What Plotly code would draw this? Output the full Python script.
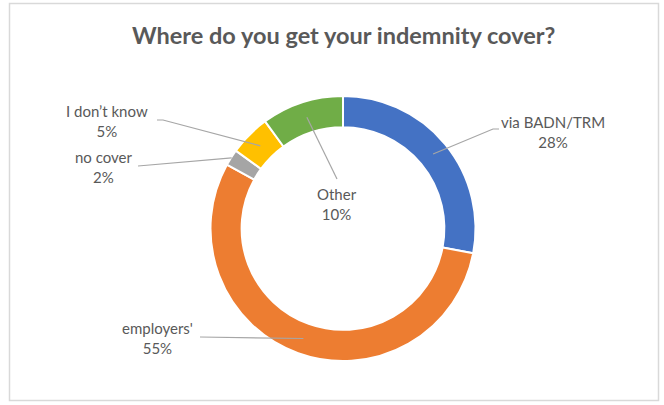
import math
import plotly.graph_objects as go

# Survey answers, clockwise from 12 o'clock
categories = ["via BADN/TRM", "employers'", "no cover", "I don\u2019t know", "Other"]
shares = [28, 55, 2, 5, 10]
colors = ["#4472C4", "#ED7D31", "#A5A5A5", "#FFC000", "#70AD47"]

W, H = 664, 405
CX, CY = 343, 228.5          # donut centre in page pixels (y from top)
R_OUT = 132.5
HOLE = 0.765
R_MID = R_OUT * (1 + HOLE) / 2

# Where each label sits (centre of the two-line text) and where its leader starts
label_pos = {
    "via BADN/TRM": (553, 132),
    "employers'": (157, 338),
    "no cover": (103, 167),
    "I don\u2019t know": (107, 121),
    "Other": (337, 204),
}
leader_start = {
    "via BADN/TRM": [(499, 129), (493, 129)],
    "employers'": [(200, 337)],
    "no cover": [(138, 166)],
    "I don\u2019t know": [(157, 120), (163, 120)],
    "Other": [(337, 179)],
}
leader_radius = {"no cover": R_OUT * 0.995}


def px(x):
    return x / W


def py(y):
    return (H - y) / H


fig = go.Figure(
    go.Pie(
        labels=categories,
        values=shares,
        sort=False,
        direction="clockwise",
        rotation=0,
        hole=HOLE,
        marker=dict(colors=colors, line=dict(color="white", width=2)),
        textinfo="none",
        hoverinfo="label+percent",
        showlegend=False,
        domain=dict(
            x=[px(CX - R_OUT), px(CX + R_OUT)],
            y=[py(CY + R_OUT), py(CY - R_OUT)],
        ),
    )
)

shapes = []
annotations = []
total = sum(shares)
cum = 0.0
for name, v in zip(categories, shares):
    mid = (cum + v / 2) / total
    cum += v
    ang = 2 * math.pi * mid
    r = leader_radius.get(name, R_MID)
    ex, ey = CX + r * math.sin(ang), CY - r * math.cos(ang)
    pts = leader_start[name] + [(ex, ey)]
    path = "M " + " L ".join(f"{px(x):.5f},{py(y):.5f}" for x, y in pts)
    shapes.append(dict(type="path", xref="paper", yref="paper", path=path,
                       line=dict(color="#A6A6A6", width=1.2)))
    lx, ly = label_pos[name]
    annotations.append(dict(
        x=px(lx), y=py(ly), xref="paper", yref="paper",
        text=f"{name}<br>{round(100 * v / total)}%",
        showarrow=False, xanchor="center", yanchor="middle", align="center",
        font=dict(family="Lato, Open Sans, sans-serif", size=15, color="#595959"),
    ))

# Chart-area frame
shapes.append(dict(type="rect", xref="paper", yref="paper",
                   x0=px(9.5), x1=px(658.5), y0=py(400.5), y1=py(3.5),
                   line=dict(color="#D9D9D9", width=1.5), layer="below"))

annotations.append(dict(
    x=px(343), y=py(35), xref="paper", yref="paper",
    text="<b>Where do you get your indemnity cover?</b>",
    showarrow=False, xanchor="center", yanchor="middle",
    font=dict(family="Lato, Open Sans, sans-serif", size=23.5, color="#595959"),
))

fig.update_layout(
    width=W, height=H,
    margin=dict(l=0, r=0, t=0, b=0),
    paper_bgcolor="white", plot_bgcolor="white",
    shapes=shapes, annotations=annotations,
)

fig.write_html("out.html")
